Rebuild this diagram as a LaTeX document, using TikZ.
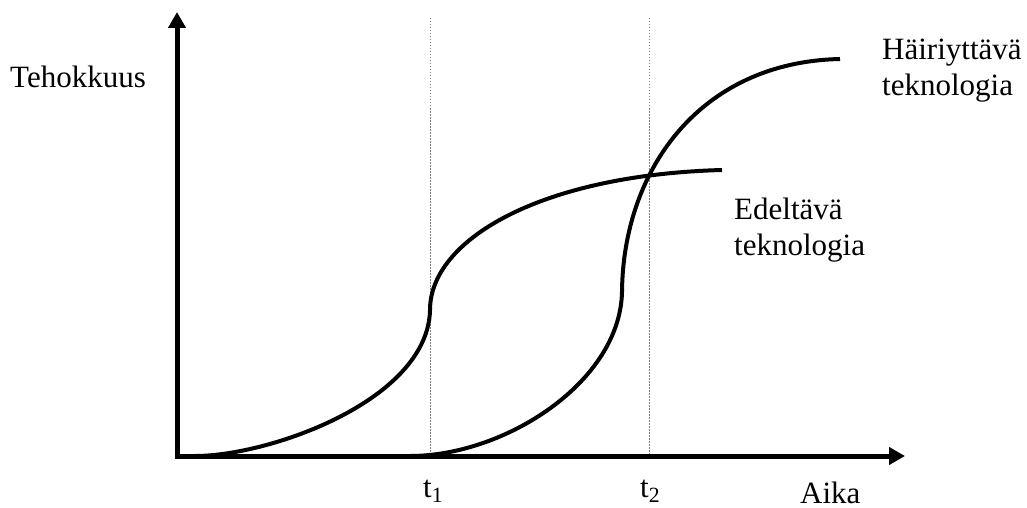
\documentclass[tikz,border=0pt]{standalone}
\usepackage{fontspec}
\setmainfont{Liberation Serif}
\usetikzlibrary{arrows.meta}
\begin{document}
\begin{tikzpicture}[x=1pt,y=-1pt,
  axis/.style={line width=5pt,-{Triangle[length=16pt,width=17pt]}},
  curve/.style={line width=4pt},
  guide/.style={gray,line width=1pt,dash pattern=on 1.5pt off 1.5pt},
  lbl/.style={anchor=base west,inner sep=0pt,font=\fontsize{31}{36}\selectfont}]
\useasboundingbox (0,0) rectangle (1027,508);
% axes
\coordinate (O) at (177,456);
\coordinate (Ytop) at (177,12);
\coordinate (Xend) at (905,456);
% guides
\coordinate (g1t) at (430,18);
\coordinate (g1b) at (430,456);
\coordinate (g2t) at (649,18);
\coordinate (g2b) at (649,456);
\draw[guide] (g1t) -- (g1b);
\draw[guide] (g2t) -- (g2b);
\draw[axis] (O |- Xend) ++(-2.5,0) coordinate (Ostart) -- (Xend);
\draw[axis] (O) ++(0,2.5) coordinate (Ostart2) -- (Ytop);
% curve 1: Edeltava
\coordinate (a0) at (195,456);
\coordinate (a1) at (430,310);
\coordinate (a2) at (722,170);
\draw[curve] (a0) .. controls (270,456) and (428,400) .. (a1)
  .. controls (430,240) and (540,175) .. (a2);
% curve 2: Hairiyttava
\coordinate (b0) at (410,456);
\coordinate (b1) at (622,292);
\coordinate (b2) at (840,59);
\draw[curve] (b0) .. controls (505,456) and (620,382) .. (b1)
  .. controls (623,170) and (700,62) .. (b2);
% labels
\node[lbl] (ylab) at (10,88) {Tehokkuus};
\node[lbl] (xlab) at (800,503) {Aika};
\node[lbl] (t1) at (423,497) {t\textsubscript{1}};
\node[lbl] (t2) at (640,497) {t\textsubscript{2}};
\node[lbl,align=left] (hlab) at (882,96) {Häiriyttävä\\teknologia};
\node[lbl,align=left] (elab) at (734,255) {Edeltävä\\teknologia};
\end{tikzpicture}
\end{document}
